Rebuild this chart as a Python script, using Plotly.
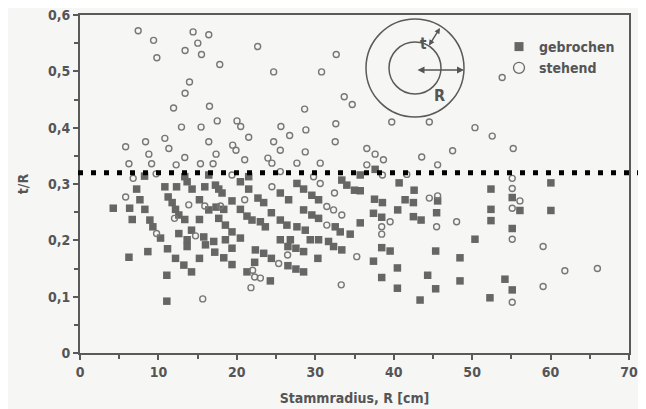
import plotly.graph_objects as go

# ---- data ----
stehend_x = [7.42, 9.38, 14.42, 16.42, 15.02, 13.40, 15.49, 9.80, 17.82, 13.96, 13.40, 11.93, 16.51, 17.50,
             12.94, 15.44, 22.65, 32.67, 24.69, 30.80, 33.69, 34.71, 28.64, 20.02, 20.49, 25.62, 28.80, 32.62,
             39.75, 44.54, 50.36, 53.83, 5.82, 8.36, 10.82, 8.78, 11.33, 6.24, 9.13, 12.26, 13.36, 15.36, 16.42,
             17.35, 16.97, 6.78, 9.71, 5.82, 13.87, 12.05, 9.76, 14.73, 15.91, 21.51, 26.73, 19.47, 19.89, 24.69,
             25.54, 28.72, 32.54, 21.00, 23.96, 24.47, 27.66, 30.63, 19.38, 25.54, 29.78, 30.63, 24.47, 32.45,
             21.00, 17.91, 31.47, 32.33, 33.38, 31.47, 36.57, 37.63, 38.69, 36.57, 38.56, 43.57, 45.60, 47.51,
             52.56, 41.66, 44.54, 45.60, 39.54, 38.47, 38.47, 45.47, 48.02, 55.24, 55.11, 55.11, 56.09, 55.11,
             55.11, 59.05, 25.33, 26.47, 22.02, 22.27, 23.00, 21.80, 33.31, 35.29, 15.65, 61.82, 65.97, 59.05,
             55.11]
stehend_y = [0.572, 0.555, 0.570, 0.565, 0.550, 0.537, 0.530, 0.524, 0.512, 0.481, 0.461, 0.435, 0.438, 0.412,
             0.401, 0.401, 0.544, 0.530, 0.499, 0.499, 0.455, 0.441, 0.433, 0.412, 0.402, 0.402, 0.396, 0.407,
             0.410, 0.410, 0.400, 0.489, 0.366, 0.375, 0.381, 0.353, 0.363, 0.336, 0.336, 0.334, 0.347, 0.336,
             0.375, 0.353, 0.336, 0.310, 0.318, 0.277, 0.263, 0.239, 0.212, 0.208, 0.261, 0.383, 0.386, 0.369,
             0.360, 0.375, 0.360, 0.357, 0.375, 0.343, 0.346, 0.337, 0.337, 0.337, 0.316, 0.322, 0.313, 0.301,
             0.295, 0.284, 0.272, 0.261, 0.260, 0.254, 0.245, 0.227, 0.363, 0.353, 0.343, 0.334, 0.316, 0.348,
             0.334, 0.359, 0.385, 0.317, 0.275, 0.279, 0.233, 0.224, 0.211, 0.224, 0.233, 0.363, 0.310, 0.292,
             0.270, 0.257, 0.202, 0.189, 0.159, 0.174, 0.147, 0.135, 0.133, 0.116, 0.121, 0.171, 0.096, 0.146,
             0.150, 0.118, 0.090]

gebrochen_x = [8.23, 10.82, 12.31, 13.36, 13.66, 14.29, 15.91, 16.42, 17.27, 7.22, 7.64, 11.24, 11.75, 4.24,
               6.33, 8.27, 12.18, 12.60, 15.23, 6.66, 8.91, 9.29, 13.36, 15.23, 16.42, 17.35, 10.27, 12.60, 13.66,
               14.22, 15.78, 17.05, 6.24, 8.65, 11.16, 12.18, 13.24, 14.22, 11.07, 11.07, 13.66, 15.23, 16.00,
               17.18, 20.45, 21.51, 21.51, 17.69, 18.11, 19.38, 18.33, 20.45, 22.69, 23.42, 25.54, 26.60, 27.66,
               28.51, 29.56, 30.42, 33.38, 34.02, 35.00, 21.29, 21.93, 23.00, 23.63, 18.54, 19.38, 17.69, 24.40,
               25.54, 26.38, 27.66, 28.72, 28.51, 29.56, 30.42, 32.54, 33.18, 34.45, 18.54, 20.45, 25.54, 26.82,
               29.36, 30.42, 31.69, 19.38, 18.33, 19.38, 22.36, 23.42, 24.40, 22.27, 21.29, 24.27, 26.51, 27.53,
               28.51, 30.33, 26.51, 27.53, 28.51, 32.33, 33.38, 37.63, 35.73, 35.73, 40.69, 42.60, 37.55, 38.56,
               41.45, 42.51, 45.60, 40.51, 37.42, 38.47, 42.51, 43.49, 45.47, 35.73, 52.40, 52.40, 52.40, 50.36,
               55.11, 56.09, 55.11, 60.04, 60.04, 38.47, 39.54, 37.42, 40.47, 38.47, 40.47, 45.35, 44.33, 45.35,
               43.36, 48.45, 48.45, 52.27, 54.18, 55.11]
gebrochen_y = [0.314, 0.295, 0.295, 0.313, 0.304, 0.291, 0.295, 0.316, 0.298, 0.291, 0.272, 0.277, 0.267, 0.257,
               0.257, 0.255, 0.255, 0.245, 0.272, 0.237, 0.236, 0.224, 0.237, 0.237, 0.254, 0.259, 0.204, 0.212,
               0.201, 0.218, 0.206, 0.198, 0.170, 0.180, 0.185, 0.168, 0.156, 0.144, 0.138, 0.092, 0.189, 0.168,
               0.192, 0.179, 0.304, 0.313, 0.291, 0.291, 0.284, 0.270, 0.255, 0.255, 0.275, 0.267, 0.284, 0.272,
               0.301, 0.291, 0.280, 0.272, 0.307, 0.298, 0.289, 0.243, 0.236, 0.233, 0.224, 0.227, 0.215, 0.239,
               0.249, 0.236, 0.227, 0.224, 0.218, 0.254, 0.245, 0.239, 0.224, 0.215, 0.211, 0.201, 0.204, 0.201,
               0.201, 0.201, 0.201, 0.198, 0.186, 0.169, 0.157, 0.183, 0.177, 0.168, 0.161, 0.144, 0.128, 0.189,
               0.186, 0.180, 0.168, 0.155, 0.149, 0.144, 0.189, 0.183, 0.326, 0.316, 0.288, 0.302, 0.289, 0.273,
               0.267, 0.272, 0.267, 0.270, 0.254, 0.248, 0.241, 0.242, 0.236, 0.249, 0.231, 0.291, 0.255, 0.235,
               0.202, 0.276, 0.253, 0.221, 0.302, 0.253, 0.187, 0.181, 0.163, 0.151, 0.134, 0.115, 0.181, 0.138,
               0.114, 0.094, 0.169, 0.128, 0.098, 0.131, 0.112]

threshold = 0.32
x_tickvals = [0, 10, 20, 30, 40, 50, 60, 70]
x_ticktext = ["0", "10", "20", "30", "40", "50", "60", "70"]
y_tickvals = [0, 0.1, 0.2, 0.3, 0.4, 0.5, 0.6]
y_ticktext = ["0", "0,1", "0,2", "0,3", "0,4", "0,5", "0,6"]
series_names = ["gebrochen", "stehend"]

FONT = "DejaVu Sans Condensed, Liberation Sans Narrow, Arial Narrow, sans-serif"
INK = "#555555"
MARK = "#666666"

fig = go.Figure()
fig.add_trace(go.Scatter(x=gebrochen_x, y=gebrochen_y, mode="markers", showlegend=False,
                         marker=dict(symbol="square", size=7.5, color=MARK, line=dict(width=0))))
fig.add_trace(go.Scatter(x=stehend_x, y=stehend_y, mode="markers", showlegend=False,
                         marker=dict(symbol="circle-open", size=6, color="#777777", line=dict(width=1.4))))
# legend entries (larger symbols as in the reference legend)
fig.add_trace(go.Scatter(x=[None], y=[None], mode="markers", name=series_names[0],
                         marker=dict(symbol="square", size=9, color=MARK)))
fig.add_trace(go.Scatter(x=[None], y=[None], mode="markers", name=series_names[1],
                         marker=dict(symbol="circle-open", size=11, color="#6a6a6a", line=dict(width=1.3))))

# the page body has an 8px margin, so the figure is shrunk by 8px and margins adjusted
OFF = 8
W, H = 646 - OFF, 409 - OFF
L, R, T, B = 80 - OFF, 17, 15 - OFF, 56
pw, ph = W - L - R, H - T - B

def px(xp):  # window pixel -> paper x
    return (xp - OFF - L) / pw

def py(yp):  # window pixel -> paper y
    return (H - B - (yp - OFF)) / ph

shapes = []
# threshold dotted line, extending past the plot's right edge
shapes.append(dict(type="line", xref="paper", yref="y", x0=px(78), x1=px(641), y0=threshold, y1=threshold,
                   line=dict(color="black", width=5, dash="5px,8px"), layer="above"))
# inset sketch: stem cross-section
cx, cy = 415, 68
for r in (49, 26):
    shapes.append(dict(type="circle", xref="paper", yref="paper",
                       x0=px(cx - r), x1=px(cx + r), y0=py(cy + r), y1=py(cy - r),
                       line=dict(color="#5a5a5a", width=1.5)))

annotations = [
    dict(xref="paper", yref="paper", x=px(464), y=py(70), ax=-48, ay=0, text="", showarrow=True,
         arrowhead=2, startarrowhead=2, arrowside="end+start", arrowsize=1, arrowwidth=1.4, arrowcolor="#555"),
    dict(xref="paper", yref="paper", x=px(440), y=py(28), ax=-12, ay=19, text="", showarrow=True,
         arrowhead=2, startarrowhead=2, arrowside="end+start", arrowsize=0.8, arrowwidth=1.4, arrowcolor="#555"),
    dict(xref="paper", yref="paper", x=px(423), y=py(33), text="<b>t</b>", showarrow=False,
         font=dict(family=FONT, size=15, color=INK)),
    dict(xref="paper", yref="paper", x=px(447), y=py(84), text="<b>R</b>", showarrow=False,
         font=dict(family=FONT, size=16, color=INK)),
]

axis_common = dict(showline=True, linecolor="#5a5a5a", linewidth=2, mirror=True, showgrid=False,
                   zeroline=False, ticks="outside", ticklen=5, tickwidth=1.5, tickcolor="#5a5a5a",
                   automargin=False, ticklabeloverflow="allow",
                   tickfont=dict(family=FONT, size=14, color=INK, weight="bold"))

fig.update_layout(
    width=W, height=H,
    margin=dict(l=L, r=R, t=T, b=B),
    paper_bgcolor="#f6f6f5", plot_bgcolor="#f6f6f5",
    showlegend=True,
    legend=dict(x=px(499), y=py(31), xanchor="left", yanchor="top", bgcolor="rgba(0,0,0,0)",
                font=dict(family=FONT, size=14, color=INK, weight="bold"), itemsizing="trace",
                tracegroupgap=0),
    xaxis=dict(range=[0, 70], tickvals=x_tickvals, ticktext=x_ticktext,
               minor=dict(dtick=5, ticks="outside", ticklen=4, tickcolor="#5a5a5a"),
               title=dict(text="<b>Stammradius, R [cm]</b>", standoff=14,
                          font=dict(family=FONT, size=14, color=INK)),
               **axis_common),
    yaxis=dict(range=[0, 0.6], tickvals=y_tickvals, ticktext=y_ticktext,
               minor=dict(dtick=0.05, ticks="outside", ticklen=4, tickcolor="#5a5a5a"),
               title=dict(text="<b>t/R</b>", standoff=16,
                          font=dict(family=FONT, size=14, color=INK)),
               **axis_common),
    shapes=shapes,
    annotations=annotations,
)

fig.write_html("out.html")
